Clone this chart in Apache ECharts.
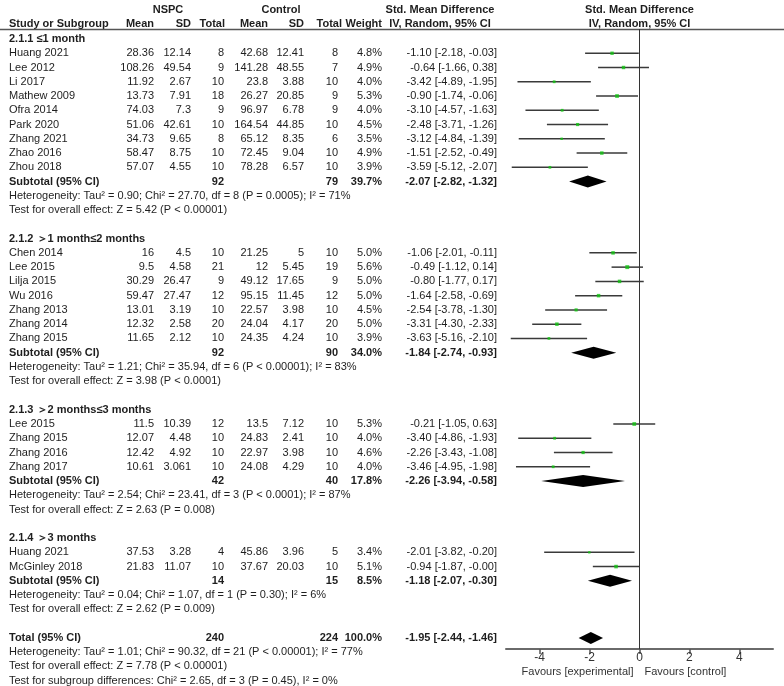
<!DOCTYPE html>
<html><head><meta charset="utf-8">
<script src="https://cdn.jsdelivr.net/npm/echarts@6/dist/echarts.min.js"></script>
<style>html,body{margin:0;padding:0;background:#fff}#c{width:784px;height:686px}</style>
</head><body><div id="c"></div>
<script>
// ---------- data ----------
const groupTitles = ["2.1.1 ≤1 month", "2.1.2 ＞1 month≤2 months", "2.1.3 ＞2 months≤3 months", "2.1.4 ＞3 months"];
const groupSizes = [9, 7, 4, 2];
const studyNames = ["Huang 2021","Lee 2012","Li 2017","Mathew 2009","Ofra 2014","Park 2020","Zhang 2021","Zhao 2016","Zhou 2018",
  "Chen 2014","Lee 2015","Lilja 2015","Wu 2016","Zhang 2013","Zhang 2014","Zhang 2015",
  "Lee 2015","Zhang 2015","Zhang 2016","Zhang 2017",
  "Huang 2021","McGinley 2018"];
const expMean = [28.36,108.26,11.92,13.73,74.03,51.06,34.73,58.47,57.07, 16,9.5,30.29,59.47,13.01,12.32,11.65, 11.5,12.07,12.42,10.61, 37.53,21.83];
const expSD = ["12.14","49.54","2.67","7.91","7.3","42.61","9.65","8.75","4.55", "4.5","4.58","26.47","27.47","3.19","2.58","2.12", "10.39","4.48","4.92","3.061", "3.28","11.07"];
const expN = [8,9,10,18,9,10,8,10,10, 10,21,9,12,10,20,10, 12,10,10,10, 4,10];
const ctlMean = [42.68,141.28,23.8,26.27,96.97,164.54,65.12,72.45,78.28, 21.25,12,49.12,95.15,22.57,24.04,24.35, 13.5,24.83,22.97,24.08, 45.86,37.67];
const ctlSD = ["12.41","48.55","3.88","20.85","6.78","44.85","8.35","9.04","6.57", "5","5.45","17.65","11.45","3.98","4.17","4.24", "7.12","2.41","3.98","4.29", "3.96","20.03"];
const ctlN = [8,7,10,9,9,10,6,10,10, 10,19,9,12,10,20,10, 10,10,10,10, 5,10];
const weights = [4.8,4.9,4.0,5.3,4.0,4.5,3.5,4.9,3.9, 5.0,5.6,5.0,5.0,4.5,5.0,3.9, 5.3,4.0,4.6,4.0, 3.4,5.1];
const smd = [-1.10,-0.64,-3.42,-0.90,-3.10,-2.48,-3.12,-1.51,-3.59, -1.06,-0.49,-0.80,-1.64,-2.54,-3.31,-3.63, -0.21,-3.40,-2.26,-3.46, -2.01,-0.94];
const ciLow = [-2.18,-1.66,-4.89,-1.74,-4.57,-3.71,-4.84,-2.52,-5.12, -2.01,-1.12,-1.77,-2.58,-3.78,-4.30,-5.16, -1.05,-4.86,-3.43,-4.95, -3.82,-1.87];
const ciHigh = [-0.03,0.38,-1.95,-0.06,-1.63,-1.26,-1.39,-0.49,-2.07, -0.11,0.14,0.17,-0.69,-1.30,-2.33,-2.10, 0.63,-1.93,-1.08,-1.98, -0.20,-0];

const subExpN = [92,92,42,14];
const subCtlN = [79,90,40,15];
const subWeight = [39.7,34.0,17.8,8.5];
const subSmd = [-2.07,-1.84,-2.26,-1.18];
const subLow = [-2.82,-2.74,-3.94,-2.07];
const subHigh = [-1.32,-0.93,-0.58,-0.30];
const subHet = [
  "Heterogeneity: Tau² = 0.90; Chi² = 27.70, df = 8 (P = 0.0005); I² = 71%",
  "Heterogeneity: Tau² = 1.21; Chi² = 35.94, df = 6 (P < 0.00001); I² = 83%",
  "Heterogeneity: Tau² = 2.54; Chi² = 23.41, df = 3 (P < 0.0001); I² = 87%",
  "Heterogeneity: Tau² = 0.04; Chi² = 1.07, df = 1 (P = 0.30); I² = 6%"];
const subTest = [
  "Test for overall effect: Z = 5.42 (P < 0.00001)",
  "Test for overall effect: Z = 3.98 (P < 0.0001)",
  "Test for overall effect: Z = 2.63 (P = 0.008)",
  "Test for overall effect: Z = 2.62 (P = 0.009)"];

const totalExpN = 240, totalCtlN = 224, totalWeight = 100.0;
const totalSmd = -1.95, totalLow = -2.44, totalHigh = -1.46;
const totalHet = "Heterogeneity: Tau² = 1.01; Chi² = 90.32, df = 21 (P < 0.00001); I² = 77%";
const totalTest = "Test for overall effect: Z = 7.78 (P < 0.00001)";
const subgroupTest = "Test for subgroup differences: Chi² = 2.65, df = 3 (P = 0.45), I² = 0%";

const xTicks = [-4, -2, 0, 2, 4];
const favLeft = "Favours [experimental]", favRight = "Favours [control]";

// ---------- layout ----------
const fmt2 = v => (Object.is(v, -0) ? "-0.00" : v.toFixed(2));
const ciStr = (e, l, h) => fmt2(e) + " [" + fmt2(l) + ", " + fmt2(h) + "]";

const rows = []; // {row, type, ...}
const studyRows = [], subRows = [];
let r = 0, si = 0;
groupTitles.forEach((t, g) => {
  rows.push({row: r++, type: 'title', g});
  for (let k = 0; k < groupSizes[g]; k++) { studyRows.push(r); rows.push({row: r++, type: 'study', i: si++}); }
  subRows.push(r); rows.push({row: r++, type: 'sub', g});
  rows.push({row: r++, type: 'het', text: subHet[g]});
  rows.push({row: r++, type: 'test', text: subTest[g]});
  r++;
});
const totalRow = r;

const chart = echarts.init(document.getElementById('c'), null, {renderer: 'canvas'});
const TXT = '#1e1e1e';
const FF = '"Liberation Sans", Arial, sans-serif';

const ciData = studyRows.map((row, i) => [ciLow[i], ciHigh[i], row]);
const ptData = studyRows.map((row, i) => [smd[i], row, weights[i]]);
const diaData = subRows.map((row, g) => [subLow[g], subSmd[g], subHigh[g], row]);
diaData.push([totalLow, totalSmd, totalHigh, totalRow]);

chart.setOption({
  animation: false,
  grid: {left: 506, right: 11, top: 29, bottom: 686 - 649},
  xAxis: {
    type: 'value', min: -5.35, max: 5.35, position: 'bottom',
    axisLine: {show: true, onZero: false, lineStyle: {color: '#6a6a6a', width: 2}},
    axisTick: {show: true, customValues: xTicks, length: 5, inside: false, lineStyle: {color: '#555', width: 1.5}},
    axisLabel: {customValues: xTicks, color: '#333', fontSize: 12, fontFamily: FF, margin: 3},
    splitLine: {show: false}
  },
  yAxis: {type: 'value', inverse: true, min: -0.70, max: 42.78, show: false, splitLine: {show: false}},
  series: [
    {
      type: 'custom', data: ciData, clip: false,
      renderItem: (p, api) => {
        const a = api.coord([api.value(0), api.value(2)]);
        const b = api.coord([api.value(1), api.value(2)]);
        return {type: 'line', shape: {x1: a[0], y1: a[1], x2: b[0], y2: b[1]}, style: {stroke: '#3a3a3a', lineWidth: 1.5}};
      },
      markLine: {
        silent: true, symbol: 'none', label: {show: false},
        lineStyle: {color: '#333', width: 1, type: 'solid'},
        data: [{xAxis: 0}]
      }
    },
    {
      type: 'scatter', data: ptData, symbol: 'rect',
      symbolSize: v => v[2] * 0.7,
      itemStyle: {color: '#12c412'}, z: 5
    },
    {
      type: 'custom', data: diaData, clip: false,
      renderItem: (p, api) => {
        const y = api.value(3);
        const l = api.coord([api.value(0), y]);
        const e = api.coord([api.value(1), y]);
        const h = api.coord([api.value(2), y]);
        const hh = 6;
        return {type: 'polygon', shape: {points: [[l[0], l[1]], [e[0], e[1] - hh], [h[0], h[1]], [e[0], e[1] + hh]]}, style: {fill: '#000'}};
      }
    }
  ]
});

// ---------- texts ----------
const Y = row => chart.convertToPixel({yAxisIndex: 0}, row);
const X0 = chart.convertToPixel({xAxisIndex: 0}, 0);
const els = [];
function txt(s, x, y, align, bold) {
  els.push({type: 'text', silent: true, style: {text: String(s), x, y, textAlign: align || 'left', textVerticalAlign: 'middle',
    font: (bold ? 'bold ' : '') + '11px ' + FF, fill: TXT}});
}
const LX = 9;
const col = {em: 154, esd: 191, en: 224, cm: 268, csd: 304, cn: 338, w: 382, eff: 497};

// header
txt("NSPC", 168, 10, 'center', true);
txt("Control", 281, 10, 'center', true);
txt("Std. Mean Difference", 440, 10, 'center', true);
txt("Std. Mean Difference", X0, 10, 'center', true);
txt("Study or Subgroup", LX, 24, 'left', true);
txt("Mean", col.em, 24, 'right', true);
txt("SD", col.esd, 24, 'right', true);
txt("Total", 225, 24, 'right', true);
txt("Mean", col.cm, 24, 'right', true);
txt("SD", col.csd, 24, 'right', true);
txt("Total", 342, 24, 'right', true);
txt("Weight", col.w, 24, 'right', true);
txt("IV, Random, 95% CI", 440, 24, 'center', true);
txt("IV, Random, 95% CI", X0, 24, 'center', true);
els.push({type: 'line', silent: true, shape: {x1: 0, y1: 29.5, x2: 784, y2: 29.5}, style: {stroke: '#555', lineWidth: 1.5}});

rows.forEach(o => {
  const y = Y(o.row);
  if (o.type === 'title') txt(groupTitles[o.g], LX, y, 'left', true);
  else if (o.type === 'study') {
    const i = o.i;
    txt(studyNames[i], LX, y);
    txt(expMean[i], col.em, y, 'right');
    txt(expSD[i], col.esd, y, 'right');
    txt(expN[i], col.en, y, 'right');
    txt(ctlMean[i], col.cm, y, 'right');
    txt(ctlSD[i], col.csd, y, 'right');
    txt(ctlN[i], col.cn, y, 'right');
    txt(weights[i].toFixed(1) + "%", col.w, y, 'right');
    txt(ciStr(smd[i], ciLow[i], ciHigh[i]), col.eff, y, 'right');
  } else if (o.type === 'sub') {
    const g = o.g;
    txt("Subtotal (95% CI)", LX, y, 'left', true);
    txt(subExpN[g], col.en, y, 'right', true);
    txt(subCtlN[g], col.cn, y, 'right', true);
    txt(subWeight[g].toFixed(1) + "%", col.w, y, 'right', true);
    txt(ciStr(subSmd[g], subLow[g], subHigh[g]), col.eff, y, 'right', true);
  } else {
    txt(o.text, LX, y);
  }
});
let yt = Y(totalRow);
txt("Total (95% CI)", LX, yt, 'left', true);
txt(totalExpN, col.en, yt, 'right', true);
txt(totalCtlN, col.cn, yt, 'right', true);
txt(totalWeight.toFixed(1) + "%", col.w, yt, 'right', true);
txt(ciStr(totalSmd, totalLow, totalHigh), col.eff, yt, 'right', true);
txt(totalHet, LX, Y(totalRow + 1));
txt(totalTest, LX, Y(totalRow + 2));
txt(subgroupTest, LX, Y(totalRow + 3));

els.push({type: 'text', silent: true, style: {text: favLeft, x: X0 - 6, y: 672, textAlign: 'right', textVerticalAlign: 'middle', font: '11px ' + FF, fill: '#333'}});
els.push({type: 'text', silent: true, style: {text: favRight, x: X0 + 5, y: 672, textAlign: 'left', textVerticalAlign: 'middle', font: '11px ' + FF, fill: '#333'}});

chart.setOption({graphic: els});
</script></body></html>
